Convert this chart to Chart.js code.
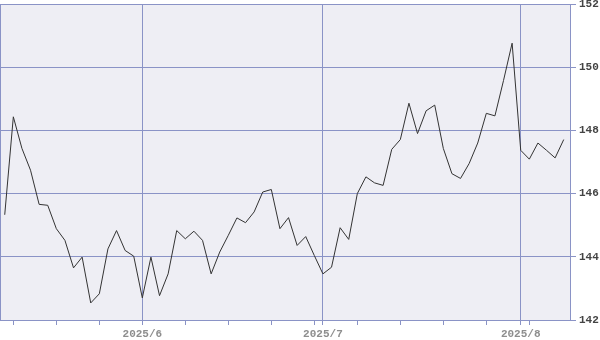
<!DOCTYPE html>
<html>
<head>
<meta charset="utf-8">
<script src="https://cdn.jsdelivr.net/npm/chart.js@4/dist/chart.umd.min.js"></script>
<style>
html,body{margin:0;padding:0;background:#fff;}
#wrap{width:600px;height:340px;position:relative;}
</style>
</head>
<body>
<div id="wrap"><canvas id="c" width="600" height="340"></canvas></div>
<script>
const dates = [
 '2025-05-09',
 '2025-05-12','2025-05-13','2025-05-14','2025-05-15','2025-05-16',
 '2025-05-19','2025-05-20','2025-05-21','2025-05-22','2025-05-23',
 '2025-05-26','2025-05-27','2025-05-28','2025-05-29','2025-05-30',
 '2025-06-02','2025-06-03','2025-06-04','2025-06-05','2025-06-06',
 '2025-06-09','2025-06-10','2025-06-11','2025-06-12','2025-06-13',
 '2025-06-16','2025-06-17','2025-06-18','2025-06-19','2025-06-20',
 '2025-06-23','2025-06-24','2025-06-25','2025-06-26','2025-06-27',
 '2025-06-30',
 '2025-07-01','2025-07-02','2025-07-03','2025-07-04',
 '2025-07-07','2025-07-08','2025-07-09','2025-07-10','2025-07-11',
 '2025-07-14','2025-07-15','2025-07-16','2025-07-17','2025-07-18',
 '2025-07-21','2025-07-22','2025-07-23','2025-07-24','2025-07-25',
 '2025-07-28','2025-07-29','2025-07-30','2025-07-31',
 '2025-08-01',
 '2025-08-04','2025-08-05','2025-08-06','2025-08-07','2025-08-08'
];
const rates = [
 145.33,
 148.43,147.43,146.74,145.66,145.63,
 144.89,144.52,143.65,143.99,142.54,
 142.83,144.25,144.83,144.20,144.02,
 142.70,143.99,142.77,143.46,144.83,
 144.57,144.81,144.52,143.46,144.15,
 144.68,145.23,145.08,145.42,146.05,
 146.13,144.89,145.24,144.36,144.64,
 144.04,
 143.46,143.67,144.92,144.55,
 146.00,146.53,146.34,146.26,147.40,
 147.71,148.86,147.90,148.62,148.80,
 147.43,146.63,146.48,146.95,147.60,
 148.54,148.46,149.58,150.76,
 147.37,
 147.09,147.60,147.37,147.13,147.71
];
const yTicks = [142,144,146,148,150,152];

const parsed = dates.map(d => { const [y,m,dd] = d.split('-').map(Number); return new Date(y, m-1, dd); });
const monthTicks = parsed.map((d,i)=> (i>0 && d.getMonth()!==parsed[i-1].getMonth()) ? i : -1).filter(i=>i>=0);
const weekTicks = parsed.map((d,i)=> d.getDay()===1 ? i : -1).filter(i=>i>=0);
const allTicks = Array.from(new Set([...weekTicks, ...monthTicks])).sort((a,b)=>a-b);
const monthLabel = i => parsed[i].getFullYear() + '/' + (parsed[i].getMonth()+1);

const GRID = '#8a93c6';
const FONT = '"Liberation Mono", "DejaVu Sans Mono", monospace';

const bgPlugin = {
  id: 'plotbg',
  beforeDraw(chart){
    const {ctx, chartArea:a} = chart;
    ctx.save();
    ctx.fillStyle = '#eeeef4';
    ctx.fillRect(a.left, a.top, a.right-a.left, a.bottom-a.top);
    ctx.restore();
  },
  afterDatasetsDraw(chart){
    const {ctx, chartArea:a} = chart;
    ctx.save();
    ctx.strokeStyle = GRID;
    ctx.lineWidth = 1;
    ctx.beginPath();
    ctx.moveTo(a.left+0.5, a.top);
    ctx.lineTo(a.left+0.5, a.bottom);
    ctx.stroke();
    ctx.restore();
  }
};

new Chart(document.getElementById('c'), {
  type: 'line',
  data: {
    datasets: [{
      data: rates.map((v,i)=>({x:i, y:v})),
      borderColor: '#333333',
      borderWidth: 1,
      pointRadius: 0,
      tension: 0,
      fill: false
    }]
  },
  options: {
    responsive: false,
    animation: false,
    devicePixelRatio: 1,
    layout: { padding: { left: 0, top: 4, right: 0, bottom: 0 } },
    plugins: { legend: { display: false }, tooltip: { enabled: false } },
    scales: {
      x: {
        type: 'linear',
        min: -0.55,
        max: rates.length - 1 + 0.73,
        afterBuildTicks: s => { s.ticks = allTicks.map(v => ({value: v})); },
        afterFit: s => { s.height = 20; s.paddingLeft = 0; s.paddingRight = 0; },
        grid: {
          color: c => (c.tick && monthTicks.includes(c.tick.value)) ? GRID : 'rgba(0,0,0,0)',
          tickColor: GRID,
          tickLength: 5,
          lineWidth: 1,
          drawOnChartArea: true
        },
        border: { display: true, color: GRID, width: 1 },
        ticks: {
          autoSkip: false,
          maxRotation: 0,
          padding: 3,
          color: '#8e8e8e',
          font: { family: FONT, size: 11, weight: 'bold' },
          callback: v => monthTicks.includes(v) ? monthLabel(v) : ''
        }
      },
      y: {
        position: 'right',
        min: yTicks[0],
        max: yTicks[yTicks.length-1],
        afterBuildTicks: s => { s.ticks = yTicks.map(v => ({value: v})); },
        afterFit: s => { s.width = 30; s.paddingTop = 0; s.paddingBottom = 0; },
        grid: { color: GRID, tickColor: GRID, tickLength: 6, lineWidth: 1 },
        border: { display: true, color: GRID, width: 1 },
        ticks: {
          padding: 3,
          color: '#444444',
          font: { family: FONT, size: 11, weight: 'bold' }
        }
      }
    }
  },
  plugins: [bgPlugin]
});
</script>
</body>
</html>
